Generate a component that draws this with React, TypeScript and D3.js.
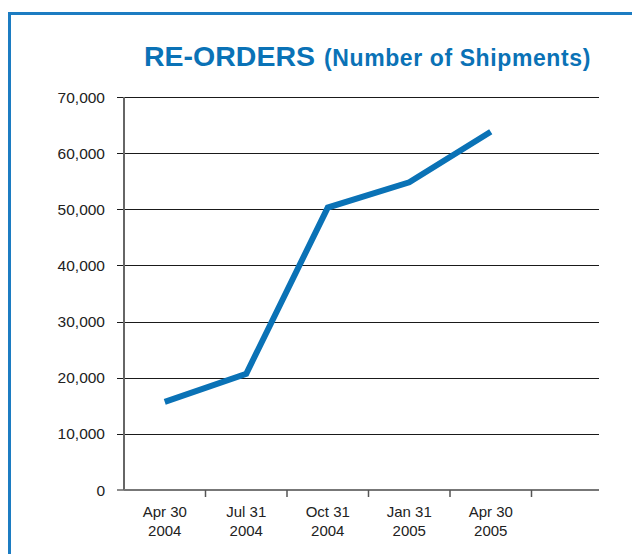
import React, { useEffect, useRef } from "react";
import * as d3 from "d3";

// quarter end dates, split over two lines
const months = ["Apr 30", "Jul 31", "Oct 31", "Jan 31", "Apr 30"];
const years = ["2004", "2004", "2004", "2005", "2005"];
const reorders = [15700, 20700, 50300, 54800, 63800];
const yTicks = [0, 10000, 20000, 30000, 40000, 50000, 60000, 70000];

const App = () => {
  const ref = useRef<SVGSVGElement>(null);

  useEffect(() => {
    const svg = d3.select(ref.current);
    svg.selectAll("*").remove();

    const W = 632,
      H = 554;
    const left = 124,
      top = 97,
      bottom = 490,
      gridEnd = 599;
    const font = "'Liberation Sans', Arial, sans-serif";
    const blue = "#0a72b6";

    // one empty slot after the last quarter
    const keys = months.map((m, i) => `${m} ${years[i]}`).concat(["next"]);

    const x = d3
      .scaleBand()
      .domain(keys)
      .range([left, left + 81.5 * keys.length])
      .padding(0);

    const y = d3
      .scaleLinear()
      .domain([0, 70000])
      .range([bottom, top]);

    svg
      .append("rect")
      .attr("width", W)
      .attr("height", H)
      .attr("fill", "#fff");

    // frame
    svg
      .append("rect")
      .attr("x", 9.5)
      .attr("y", 13.5)
      .attr("width", W + 20)
      .attr("height", H + 20)
      .attr("fill", "none")
      .attr("stroke", "#1c7cc2")
      .attr("stroke-width", 3);

    // title
    const title = svg
      .append("text")
      .attr("x", 144)
      .attr("y", 66)
      .attr("fill", blue)
      .attr("font-family", font)
      .attr("font-weight", "bold");
    title.append("tspan").attr("font-size", 28.5).text("RE-ORDERS");
    title
      .append("tspan")
      .attr("font-size", 23)
      .attr("dx", 9)
      .attr("letter-spacing", 0.6)
      .text("(Number of Shipments)");

    // gridlines + y labels
    const g = svg.append("g");
    g.selectAll("line.grid")
      .data(yTicks.filter((t) => t > 0))
      .join("line")
      .attr("x1", left - 7)
      .attr("x2", gridEnd)
      .attr("y1", (d) => y(d) + 0.5)
      .attr("y2", (d) => y(d) + 0.5)
      .attr("stroke", "#1a1a1a")
      .attr("stroke-width", 1)
      .attr("shape-rendering", "crispEdges");

    g.append("line")
      .attr("x1", left - 7)
      .attr("x2", left)
      .attr("y1", bottom)
      .attr("y2", bottom)
      .attr("stroke", "#666")
      .attr("stroke-width", 1.5);

    g.selectAll("text.ylab")
      .data(yTicks)
      .join("text")
      .attr("x", left - 19)
      .attr("y", (d) => y(d) + 5.5)
      .attr("text-anchor", "end")
      .attr("font-family", font)
      .attr("font-size", 15.5)
      .attr("fill", "#222")
      .text((d) => d3.format(",")(d));

    // axes
    g.append("line")
      .attr("x1", left)
      .attr("x2", left)
      .attr("y1", top)
      .attr("y2", bottom)
      .attr("stroke", "#666")
      .attr("stroke-width", 2);

    g.append("line")
      .attr("x1", left)
      .attr("x2", gridEnd)
      .attr("y1", bottom)
      .attr("y2", bottom)
      .attr("stroke", "#777")
      .attr("stroke-width", 2);

    g.selectAll("line.xtick")
      .data(keys.slice(1))
      .join("line")
      .attr("x1", (d) => x(d)!)
      .attr("x2", (d) => x(d)!)
      .attr("y1", bottom)
      .attr("y2", bottom + 7)
      .attr("stroke", "#555")
      .attr("stroke-width", 1.5);

    const labels = g
      .selectAll("text.xlab")
      .data(months)
      .join("text")
      .attr("text-anchor", "middle")
      .attr("font-family", font)
      .attr("font-size", 15)
      .attr("fill", "#222");
    labels
      .append("tspan")
      .attr("x", (d, i) => x(keys[i])! + x.bandwidth() / 2)
      .attr("y", 517)
      .text((d) => d);
    labels
      .append("tspan")
      .attr("x", (d, i) => x(keys[i])! + x.bandwidth() / 2)
      .attr("y", 536)
      .text((d, i) => years[i]);

    // series
    const line = d3
      .line<number>()
      .x((d, i) => x(keys[i])! + x.bandwidth() / 2)
      .y((d) => y(d));

    svg
      .append("path")
      .datum(reorders)
      .attr("d", line)
      .attr("fill", "none")
      .attr("stroke", blue)
      .attr("stroke-width", 6)
      .attr("stroke-linejoin", "miter");
  }, []);

  return (
    <div style={{ position: "absolute", left: 0, top: 0 }}>
      <svg ref={ref} width={632} height={554} style={{ display: "block" }} />
    </div>
  );
};

export default App;
